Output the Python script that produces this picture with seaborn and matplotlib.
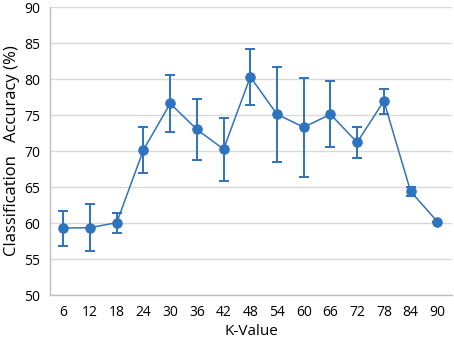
import matplotlib
matplotlib.use("Agg")
import matplotlib.pyplot as plt
import seaborn as sns
import numpy as np
import pandas as pd

k_values = ["6", "12", "18", "24", "30", "36", "42", "48", "54", "60", "66", "72", "78", "84", "90"]
accuracy = [59.3, 59.35, 60.05, 70.15, 76.6, 73.0, 70.25, 80.3, 75.1, 73.3, 75.1, 71.2, 76.95, 64.4, 60.2]
err_low = [56.8, 56.1, 58.65, 67.0, 72.6, 68.75, 65.9, 76.4, 68.5, 66.4, 70.5, 69.0, 75.2, 63.75, 60.2]
err_high = [61.7, 62.7, 61.4, 73.3, 80.6, 77.2, 74.6, 84.1, 81.7, 80.2, 79.7, 73.3, 78.6, 65.0, 60.2]
y_ticks = [50, 55, 60, 65, 70, 75, 80, 85, 90]

sns.set_theme(style="white")
plt.rcParams['font.family'] = ['Open Sans', 'DejaVu Sans']

df = pd.DataFrame({"K": k_values, "acc": accuracy})
color = "#2E73BE"
grid_c = "#D9D9D9"
axis_c = "#BFBFBF"

fig = plt.figure(figsize=(4.54, 3.42), dpi=100)
ax = fig.add_axes([0.110, 0.1374, 0.8856, 0.8421])

yerr = np.array([np.array(accuracy) - np.array(err_low), np.array(err_high) - np.array(accuracy)])
ax.errorbar(k_values, accuracy, yerr=yerr, fmt="none", ecolor=color, elinewidth=1.4,
            capsize=3.4, capthick=1.4, zorder=3)
sns.lineplot(data=df, x="K", y="acc", ax=ax, color=color, marker="o", markersize=6.8,
             markeredgecolor=color, linewidth=1.1, sort=False, zorder=4)

ax.set_ylim(50, 90)
ax.set_xlim(-0.5, 14.55)
ax.set_yticks(y_ticks)
ax.yaxis.grid(True, color=grid_c, linewidth=1.0)
ax.set_axisbelow(True)
for s in ["top", "right"]:
    ax.spines[s].set_visible(False)
for s in ["left", "bottom"]:
    ax.spines[s].set_color(axis_c)
    ax.spines[s].set_linewidth(1.0)
ax.tick_params(axis="both", which="both", length=4, width=1.0, color=axis_c,
               labelsize=10, labelcolor="black", pad=3, direction="out")
ax.tick_params(axis="x", pad=3)
ax.set_xlabel("K-Value", fontsize=11, color="black", labelpad=3)
ax.set_ylabel("Classification   Accuracy (%)", fontsize=12, color="black", labelpad=3)

fig.savefig("out.png", dpi=100)
